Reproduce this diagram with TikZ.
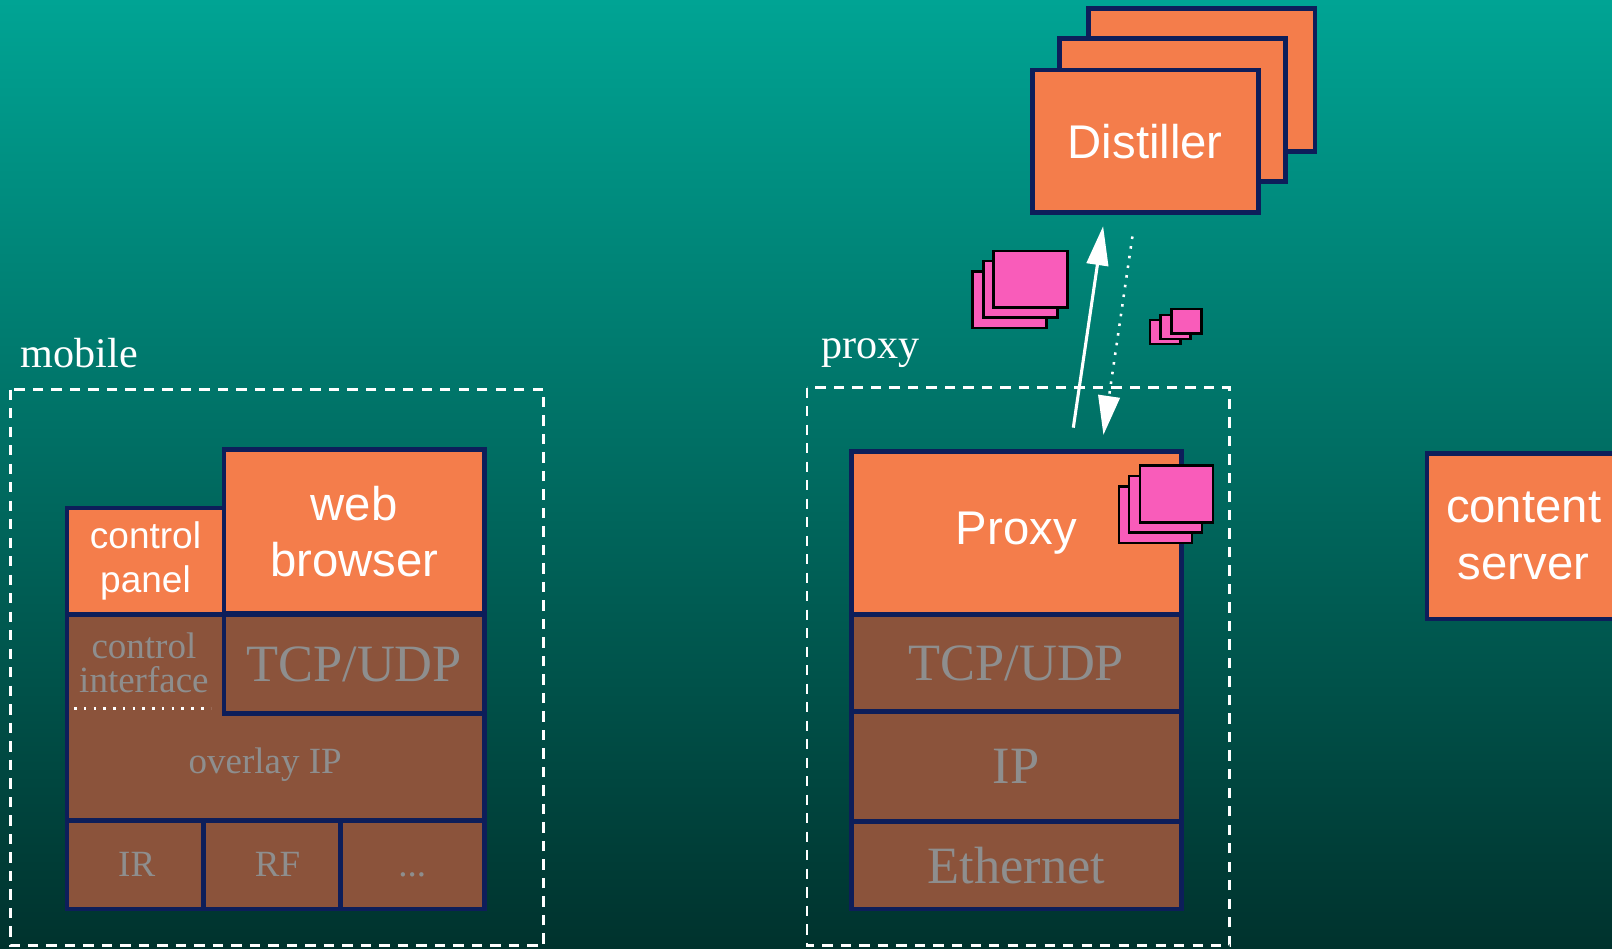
\documentclass[tikz,border=0pt]{standalone}
\usepackage{fontspec}
\setmainfont{Liberation Serif}
\newfontfamily\arialf{Liberation Sans}
\usetikzlibrary{arrows.meta}
\definecolor{bgtop}{RGB}{0,164,148}
\definecolor{bgmid}{RGB}{0,110,98}
\definecolor{bgbot}{RGB}{0,50,45}
\definecolor{orangec}{RGB}{244,125,75}
\definecolor{brownc}{RGB}{139,83,59}
\definecolor{navyc}{RGB}{13,30,90}
\definecolor{grayt}{RGB}{142,142,142}
\definecolor{pinkc}{RGB}{249,92,186}
\begin{document}
\begin{tikzpicture}[x=1pt,y=-1pt,
  box/.style={draw=navyc, line width=4.5pt, inner sep=0pt, outer sep=0pt, align=center},
  orangebox/.style={box, fill=orangec, text=white, font=\arialf\fontsize{46}{54}\selectfont},
  smallorange/.style={box, fill=orangec, text=white, font=\arialf\fontsize{36}{43}\selectfont},
  brownbox/.style={box, fill=brownc, text=grayt, font=\fontsize{51}{56}\selectfont},
  browntext/.style={text=grayt, font=\fontsize{36}{33}\selectfont, inner sep=0pt, align=center},
  pinkbox/.style={fill=pinkc, draw=black, line width=2.5pt, inner sep=0pt},
  dashedframe/.style={draw=white, line width=2.8pt, dash pattern=on 10pt off 8pt},
  framelabel/.style={text=white, font=\fontsize{41}{46}\selectfont, anchor=base west, inner sep=0pt},
  solidarrow/.style={draw=white, line width=3pt, -{Triangle[length=38pt,width=21pt]}},
  dottedarrow/.style={draw=white, line width=2.5pt, dash pattern=on 2.5pt off 7pt, -{Triangle[length=38pt,width=21pt]}},
]
\useasboundingbox (0,0) rectangle (1568,923);
\shade[top color=bgtop, middle color=bgmid, bottom color=bgbot] (0,0) rectangle (1568,923);

% ---------- mobile ----------
\draw[dashedframe] (10,379) rectangle (529,920);
\node[framelabel] (mobilelbl) at (20,357) {mobile};

\node[smallorange, minimum width=153pt, minimum height=104pt] (cpanel) at (141.5,546) {control\\panel};
\node[orangebox, minimum width=253pt, minimum height=159pt] (web) at (344.5,517) {web\\browser};
\node[brownbox, minimum width=406pt, minimum height=200pt] (lower) at (268,698) {};
\node[brownbox, minimum width=253pt, minimum height=96pt] (tcpm) at (344.5,646) {TCP/UDP};
\node[browntext] (ctrlif) at (140,645) {control\\interface};
\coordinate (dotl) at (72,689);
\coordinate (dotr) at (205,689);
\draw[white, line width=2.5pt, dash pattern=on 2.5pt off 7pt] (dotl) -- (dotr);
\node[browntext, anchor=base] (overlay) at (258,752) {overlay IP};
\node[brownbox, minimum width=133pt, minimum height=86pt] (ir) at (131.5,841) {};
\node[brownbox, minimum width=133pt, minimum height=86pt] (rf) at (264.5,841) {};
\node[brownbox, minimum width=140pt, minimum height=86pt] (etc) at (401,841) {};
\node[browntext, anchor=base] (irt) at (133,853) {IR};
\node[browntext, anchor=base] (rft) at (270,853) {RF};
\node[browntext, anchor=base] (etct) at (401,853) {...};

% ---------- proxy ----------
\draw[dashedframe] (785,377) rectangle (1196,920);
\node[framelabel] (proxylbl) at (799,349) {proxy};

\node[orangebox, minimum width=321pt, minimum height=159pt] (proxy) at (988.5,518.5) {Proxy};
\node[brownbox, minimum width=321pt, minimum height=94pt] (tcpp) at (988.5,645) {TCP/UDP};
\node[brownbox, minimum width=321pt, minimum height=107pt] (ipp) at (988.5,745.5) {IP};
\node[brownbox, minimum width=321pt, minimum height=85pt] (eth) at (988.5,841.5) {Ethernet};

\node[pinkbox, minimum width=71pt, minimum height=55pt] (pp1) at (1123.75,500.5) {};
\node[pinkbox, minimum width=71pt, minimum height=55pt] (pp2) at (1133.5,490.3) {};
\node[pinkbox, minimum width=71pt, minimum height=55pt] (pp3) at (1144.5,480.5) {};

% ---------- distiller ----------
\node[orangebox, minimum width=220pt, minimum height=139pt] (dist3) at (1169,78) {};
\node[orangebox, minimum width=220pt, minimum height=139pt] (dist2) at (1140.5,107) {};
\node[orangebox, minimum width=220pt, minimum height=139pt] (dist) at (1114,137.5) {Distiller};

% ---------- packets ----------
\node[pinkbox, minimum width=72pt, minimum height=55pt] (pa1) at (982,291.5) {};
\node[pinkbox, minimum width=72pt, minimum height=55pt] (pa2) at (992.75,281.5) {};
\node[pinkbox, minimum width=72pt, minimum height=55pt] (pa3) at (1002.5,271.5) {};

\node[pinkbox, minimum width=29.5pt, minimum height=23.5pt] (pb1) at (1133.5,323) {};
\node[pinkbox, minimum width=29.5pt, minimum height=23.5pt] (pb2) at (1143.5,318) {};
\node[pinkbox, minimum width=29.5pt, minimum height=23.5pt] (pb3) at (1154,312.5) {};

% ---------- arrows ----------
\coordinate (upfrom) at (1044,416);
\coordinate (upto) at (1073,220);
\coordinate (downfrom) at (1101.5,230);
\coordinate (downto) at (1073.3,423);
\draw[solidarrow] (upfrom) -- (upto);
\draw[dottedarrow] (downfrom) -- (downto);

% ---------- content server ----------
\node[orangebox, minimum width=188pt, minimum height=161pt, font=\arialf\fontsize{46}{56}\selectfont] (server) at (1482,521.5) {content\\server};
\end{tikzpicture}
\end{document}
